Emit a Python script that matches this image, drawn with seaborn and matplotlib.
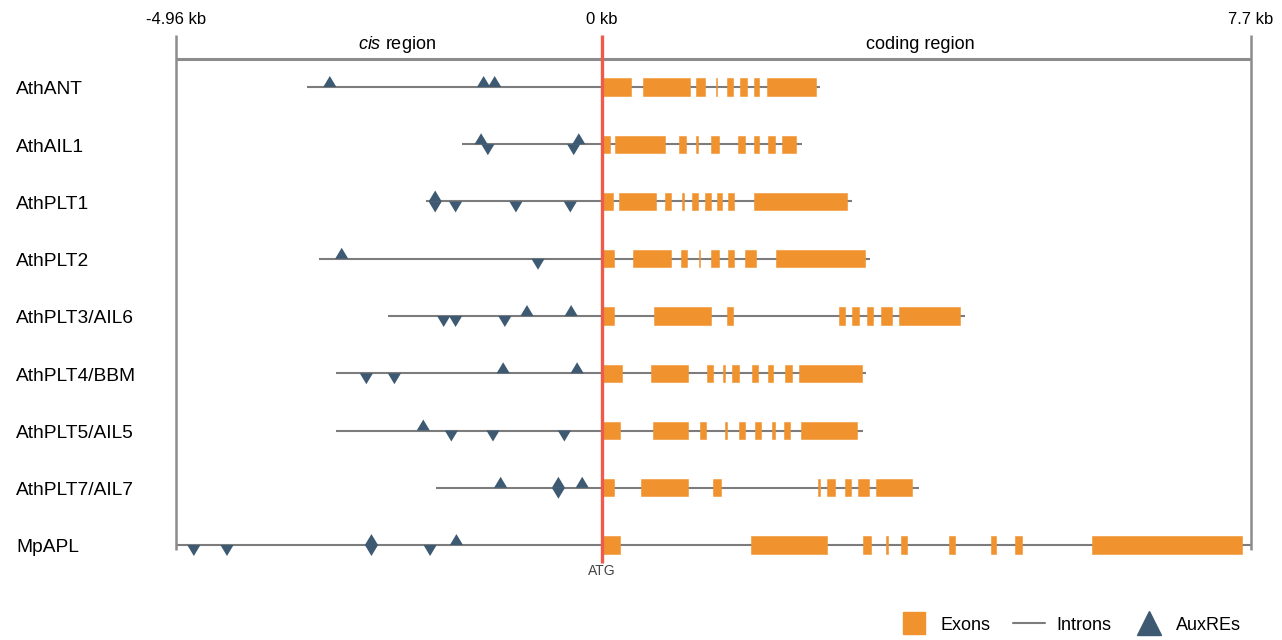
import matplotlib
matplotlib.use("Agg")
import matplotlib.pyplot as plt
import pandas as pd
import seaborn as sns
from matplotlib.lines import Line2D
from matplotlib.path import Path
from matplotlib.transforms import blended_transform_factory

# gene models, positions in kb relative to ATG
genes = ["AthANT", "AthAIL1", "AthPLT1", "AthPLT2", "AthPLT3/AIL6",
         "AthPLT4/BBM", "AthPLT5/AIL5", "AthPLT7/AIL7", "MpAPL"]
cis_start = [-3.47, -1.64, -2.07, -3.33, -2.51, -3.13, -3.13, -1.95, -5.01]
gene_end = [2.57, 2.36, 2.95, 3.16, 4.27, 3.11, 3.07, 3.73, 7.64]

exons = [
    [(0, 0.34), (0.48, 1.04), (1.11, 1.21), (1.34, 1.36), (1.47, 1.55), (1.63, 1.71),
     (1.79, 1.85), (1.94, 2.52)],
    [(0, 0.10), (0.16, 0.74), (0.91, 0.99), (1.11, 1.13), (1.29, 1.38), (1.60, 1.68),
     (1.79, 1.85), (1.96, 2.04), (2.12, 2.28)],
    [(0, 0.13), (0.20, 0.64), (0.74, 0.82), (0.95, 0.97), (1.06, 1.13), (1.22, 1.28),
     (1.36, 1.41), (1.49, 1.56), (1.79, 2.89)],
    [(0, 0.15), (0.37, 0.82), (0.93, 1.00), (1.14, 1.16), (1.29, 1.38), (1.49, 1.56),
     (1.68, 1.81), (2.05, 3.10)],
    [(0, 0.14), (0.61, 1.28), (1.47, 1.54), (2.79, 2.86), (2.94, 3.03), (3.12, 3.19),
     (3.29, 3.41), (3.50, 4.21)],
    [(0, 0.24), (0.58, 1.02), (1.24, 1.31), (1.43, 1.45), (1.53, 1.61), (1.77, 1.84),
     (1.96, 2.02), (2.16, 2.24), (2.32, 3.06)],
    [(0, 0.21), (0.60, 1.02), (1.16, 1.23), (1.45, 1.47), (1.61, 1.69), (1.80, 1.87),
     (2.00, 2.04), (2.15, 2.22), (2.35, 3.00)],
    [(0, 0.14), (0.46, 1.02), (1.31, 1.40), (2.55, 2.57), (2.65, 2.75), (2.86, 2.93),
     (3.02, 3.14), (3.23, 3.65)],
    [(0, 0.22), (1.76, 2.65), (3.08, 3.17), (3.35, 3.37), (3.52, 3.59), (4.09, 4.16),
     (4.58, 4.64), (4.86, 4.94), (5.77, 7.53)],
]

# AuxREs on the forward (up) and reverse (down) strand
auxre_up = [
    [-3.20, -1.39, -1.26],
    [-1.42, -0.27],
    [-1.96],
    [-3.06],
    [-0.88, -0.36],
    [-1.16, -0.29],
    [-2.10],
    [-1.19, -0.51, -0.23],
    [-2.71, -1.71],
]
auxre_down = [
    [],
    [-1.34, -0.33],
    [-1.96, -1.72, -1.01, -0.37],
    [-0.75],
    [-1.86, -1.72, -1.14],
    [-2.77, -2.44],
    [-1.77, -1.28, -0.44],
    [-0.51],
    [-4.80, -4.41, -2.71, -2.02],
]

x_min, x_max = -5.01, 7.64
tick_labels = ["-4.96 kb", "0 kb", "7.7 kb"]

EXON = "#F0932F"
INTRON = "#7C7C7C"
AUXRE = "#3D5A72"
ATG_RED = "#EE5B4B"
FRAME = "#8C8C8C"

sns.set_theme(style="white")
plt.rcParams["font.family"] = ["Liberation Sans", "DejaVu Sans"]
plt.rcParams["text.color"] = "black"
plt.rcParams["xtick.color"] = "black"
plt.rcParams["mathtext.fontset"] = "custom"
plt.rcParams["mathtext.rm"] = "Liberation Sans"
plt.rcParams["mathtext.it"] = "Liberation Sans:italic"

fig = plt.figure(figsize=(12.82, 6.4), dpi=100)
ax = fig.add_axes([176 / 1282, 40 / 640, 1075 / 1282, 565 / 640])

rows = list(range(len(genes)))

# introns / promoter backbone
ax.hlines(rows, cis_start, gene_end, color=INTRON, lw=1.5, zorder=1)

# exons
for r, ex in zip(rows, exons):
    ax.broken_barh([(s, e - s) for s, e in ex], (r - 0.15, 0.30),
                   facecolors=EXON, edgecolor=EXON, linewidth=0.4, zorder=2)

# AuxRE triangles, base sitting on the line
up_marker = Path([(-0.6, 0), (0.6, 0), (0, 1), (-0.6, 0)],
                 [Path.MOVETO, Path.LINETO, Path.LINETO, Path.CLOSEPOLY])
down_marker = Path([(-0.6, 0), (0.6, 0), (0, -1), (-0.6, 0)],
                   [Path.MOVETO, Path.LINETO, Path.LINETO, Path.CLOSEPOLY])
recs = []
for r in rows:
    recs += [{"pos": p, "row": r, "strand": "up"} for p in auxre_up[r]]
    recs += [{"pos": p, "row": r, "strand": "down"} for p in auxre_down[r]]
aux = pd.DataFrame(recs)
sns.scatterplot(data=aux, x="pos", y="row", style="strand",
                markers={"up": up_marker, "down": down_marker},
                color=AUXRE, s=250, linewidth=0, legend=False, ax=ax, zorder=4)

# frame: top ruler and end bars
ax.hlines(-0.489, x_min, x_max, color=FRAME, lw=2.2, zorder=1, clip_on=False)
ax.vlines([x_min, x_max], -0.908, 8.09, color=FRAME, lw=1.8, zorder=1, clip_on=False)

# ATG line
ax.vlines(0, -0.908, 8.31, color=ATG_RED, lw=2.4, zorder=5, clip_on=False)
ax.text(0, 8.45, "ATG", ha="center", va="center", fontsize=10, color="#444444")

ax.text(-2.41, -0.74, r"$\mathit{cis}$ region", ha="center", va="center", fontsize=13)
ax.text(3.75, -0.74, "coding region", ha="center", va="center", fontsize=13)

# gene names
trans = blended_transform_factory(fig.transFigure, ax.transData)
for r, g in zip(rows, genes):
    ax.text(16 / 1282, r + 0.05, g, transform=trans, ha="left", va="center",
            fontsize=13.8)

ax.set_xlim(x_min, x_max)
ax.set_ylim(8.96, -0.908)
ax.xaxis.set_ticks_position("top")
ax.set_xticks([x_min, 0, x_max], tick_labels)
ax.tick_params(axis="x", length=0, pad=6, labelsize=12)
ax.set_yticks([])
ax.set_xlabel("")
ax.set_ylabel("")
for sp in ax.spines.values():
    sp.set_visible(False)

handles = [
    Line2D([], [], marker="s", ms=15.5, color=EXON, ls="none"),
    Line2D([], [], color=INTRON, lw=1.5),
    Line2D([], [], marker="^", ms=17, color=AUXRE, ls="none"),
]
fig.legend(handles, ["Exons", "Introns", "AuxREs"], loc="lower right",
           bbox_to_anchor=(1250 / 1282, -0.004), ncol=3, frameon=False, fontsize=13,
           handlelength=1.8, handletextpad=0.6, columnspacing=1.2, borderaxespad=0.1)

fig.savefig("out.png", dpi=100)
